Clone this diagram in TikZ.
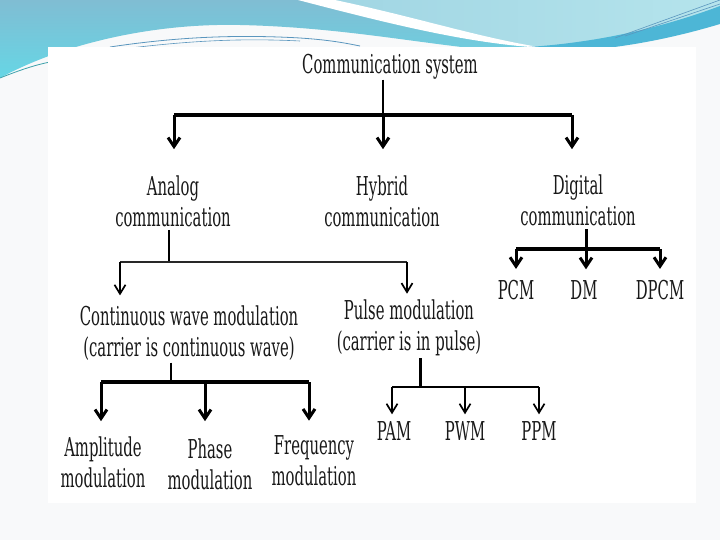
\documentclass[tikz,border=0pt]{standalone}
\usepackage{fontspec}
\setmainfont{DejaVu Serif}[FakeStretch=0.57]
\usetikzlibrary{arrows.meta}
\definecolor{slidebg}{RGB}{248,249,250}
\definecolor{blueA}{RGB}{128,189,211}
\definecolor{blueB}{RGB}{102,214,229}
\definecolor{blueL1}{RGB}{160,213,227}
\definecolor{blueL2}{RGB}{181,228,236}
\definecolor{blueD}{RGB}{77,182,214}
\definecolor{lineT}{RGB}{60,160,170}
\definecolor{lineS}{RGB}{90,150,190}
\definecolor{hgray}{RGB}{40,40,40}
\begin{document}
\begin{tikzpicture}[x=1pt,y=-1pt,
  lbl/.style={font=\fontsize{26}{31}\selectfont, align=center, inner sep=0pt, text=black!90},
  thickbar/.style={line width=4pt},
  thickarr/.style={line width=3pt, -{Straight Barb[length=9pt,width=12pt]}},
  thinln/.style={line width=2pt},
  thinarr/.style={line width=1.7pt, -{Straight Barb[length=9pt,width=11pt]}}]
\useasboundingbox (0,0) rectangle (720,540);
% slide background
\fill[slidebg] (0,0) rectangle (720,540);
% swoosh
\shade[top color=blueA, bottom color=blueB]
  (0,0) -- (720,0) -- (720,18) .. controls (650,32) and (600,50) .. (540,50)
  -- (470,48) .. controls (400,40) and (330,27) .. (240,25)
  .. controls (150,23) and (60,45) .. (0,78) -- cycle;
\shade[left color=blueL1, right color=blueL2]
  (315,0) -- (720,0) -- (720,18) .. controls (650,32) and (600,48) .. (545,48)
  .. controls (480,40) and (400,15) .. (315,0) -- cycle;
\fill[white] (298,0) -- (335,0) .. controls (420,18) and (480,38) .. (545,48)
  .. controls (470,44) and (390,24) .. (298,0) -- cycle;
\fill[blueD] (450,48) .. controls (550,52) and (640,36) .. (720,6)
  -- (720,24) .. controls (660,42) and (600,52) .. (540,52) -- cycle;
\draw[lineT, line width=0.8pt] (0,78) .. controls (20,70) and (35,65) .. (50,62);
\draw[lineS, line width=0.8pt] (110,47) .. controls (170,38) and (230,34) .. (300,38) .. controls (330,40) and (345,43) .. (360,46);
\draw[lineS, line width=0.6pt] (130,48) .. controls (190,41) and (240,38) .. (300,41);
\draw[lineS, line width=0.6pt] (615,38) -- (720,0);
\draw[lineS, line width=0.6pt] (625,36) -- (720,4);
% white picture area
\fill[white] (48,47) rectangle (696,503);
% nodes
\node[lbl] (cs) at (390,67) {Communication system};
\node[lbl] (an) at (173,201) {Analog\\communication};
\node[lbl] (hy) at (382,201) {Hybrid\\communication};
\node[lbl] (di) at (578,200) {Digital\\communication};
\node[lbl] (cw) at (189,333) {Continuous wave modulation\\(carrier is continuous wave)};
\node[lbl] (pm) at (409,328) {Pulse modulation\\(carrier is in pulse)};
\node[lbl] (am) at (103,462) {Amplitude\\modulation};
\node[lbl] (ph) at (210,464) {Phase\\modulation};
\node[lbl] (fm) at (314,461) {Frequency\\modulation};
\node[lbl] (pcm) at (516,290) {PCM};
\node[lbl] (dm) at (584,290) {DM};
\node[lbl] (dpcm) at (660,290) {DPCM};
\node[lbl] (pam) at (394,431) {PAM};
\node[lbl] (pwm) at (465,431) {PWM};
\node[lbl] (ppm) at (539,431) {PPM};
% top level
\coordinate (tb) at (383,115);
\coordinate (tbl) at (174,115);
\coordinate (tbr) at (572,115);
\draw[thinln] (cs.south -| tb) -- (tb);
\draw[thickbar] (tbl) -- (tbr);
\draw[thickarr, shorten >=26pt] (tbl) -- (tbl |- an.north);
\draw[thickarr, shorten >=26pt] (tb) -- (tb |- hy.north);
\draw[thickarr, shorten >=25pt] (tbr) -- (tbr |- di.north);
% analog
\coordinate (ab) at (169,262);
\coordinate (abl) at (120,262);
\coordinate (abr) at (407,262);
\draw[thinln, shorten <=3pt] (an.south -| ab) -- (ab);
\draw[thinln, hgray] (abl) -- (abr);
\draw[thinarr, shorten >=10pt] (abl) -- (abl |- cw.north);
\draw[thinarr, shorten >=6pt] (abr) -- (abr |- pm.north);
% digital
\coordinate (db) at (586,249);
\coordinate (dbl) at (516,249);
\coordinate (dbr) at (660,249);
\draw[line width=3pt, shorten <=3pt] (di.south -| db) -- (db);
\draw[thickbar] (dbl) -- (dbr);
\draw[thickarr, shorten >=11pt] (dbl) -- (pcm.north);
\draw[thickarr, shorten >=11pt] (db) -- (db |- dm.north);
\draw[thickarr, shorten >=11pt] (dbr) -- (dpcm.north);
% continuous wave
\coordinate (cb) at (171,382);
\coordinate (cbl) at (101,382);
\coordinate (cbm) at (205,382);
\coordinate (cbr) at (309,382);
\draw[thinln, shorten <=2pt] (cw.south -| cb) -- (cb);
\draw[thickbar] (cbl) -- (cbr);
\draw[thickarr, shorten >=15pt] (cbl) -- (cbl |- am.north);
\draw[thickarr, shorten >=17pt] (cbm) -- (cbm |- ph.north);
\draw[thickarr, shorten >=15pt] (cbr) -- (cbr |- fm.north);
% pulse
\coordinate (pb) at (420,387);
\coordinate (pbl) at (392,387);
\coordinate (pbm) at (465,387);
\coordinate (pbr) at (539,387);
\draw[line width=3pt, shorten <=2pt] (pm.south -| pb) -- (pb);
\draw[thinln] (pbl) -- (pbr);
\draw[thinarr, shorten >=7pt] (pbl) -- (pbl |- pam.north);
\draw[thinarr, shorten >=7pt] (pbm) -- (pbm |- pwm.north);
\draw[thinarr, shorten >=7pt] (pbr) -- (pbr |- ppm.north);
\end{tikzpicture}
\end{document}
